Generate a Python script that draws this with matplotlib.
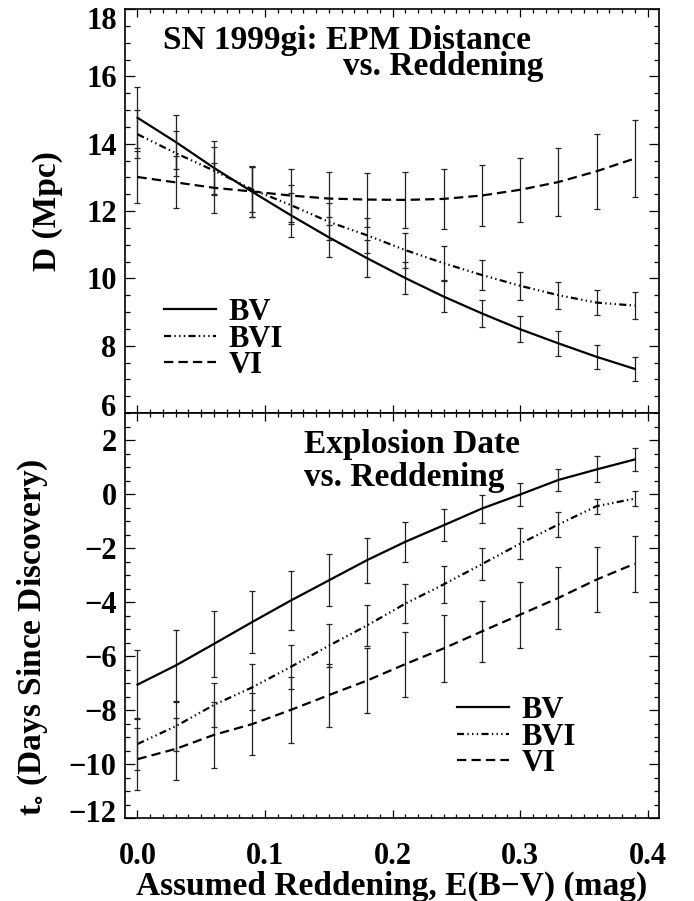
import matplotlib
matplotlib.use('Agg')
import matplotlib.pyplot as plt
from matplotlib.ticker import MultipleLocator
from matplotlib.transforms import ScaledTranslation

## Values (SN 1999gi, EPM vs. reddening)
ebv = [0.00, 0.03, 0.06, 0.09, 0.12, 0.15, 0.18, 0.21, 0.24, 0.27, 0.30, 0.33, 0.36, 0.39]

## top panel: distance (Mpc)
d_bv = [14.77, 14.05, 13.28, 12.57, 11.88, 11.22, 10.60, 10.01, 9.46, 8.96, 8.49, 8.07, 7.67, 7.31]
d_bv_err = [0.90, 0.81, 0.79, 0.75, 0.66, 0.60, 0.55, 0.48, 0.46, 0.40, 0.38, 0.37, 0.36, 0.35]
d_bvi = [14.28, 13.72, 13.20, 12.64, 12.18, 11.68, 11.28, 10.84, 10.45, 10.10, 9.78, 9.50, 9.28, 9.19]
d_bvi_err = [0.72, 0.67, 0.70, 0.68, 0.58, 0.55, 0.52, 0.52, 0.51, 0.44, 0.42, 0.40, 0.36, 0.40]
d_vi = [13.01, 12.85, 12.69, 12.58, 12.46, 12.37, 12.34, 12.33, 12.36, 12.46, 12.63, 12.86, 13.18, 13.56]
d_vi_err = [0.78, 0.77, 0.74, 0.76, 0.78, 0.79, 0.80, 0.84, 0.90, 0.90, 0.95, 1.01, 1.11, 1.15]

## bottom panel: explosion date (days since discovery)
t_bv = [-7.06, -6.35, -5.55, -4.74, -3.95, -3.20, -2.45, -1.77, -1.16, -0.54, -0.02, 0.52, 0.91, 1.28]
t_bv_err = [1.29, 1.30, 1.21, 1.15, 1.10, 0.96, 0.83, 0.75, 0.59, 0.52, 0.43, 0.40, 0.48, 0.42]
t_bvi = [-9.26, -8.60, -7.81, -7.16, -6.41, -5.62, -4.87, -4.06, -3.35, -2.60, -1.84, -1.13, -0.45, -0.17]
t_bvi_err = [0.95, 0.91, 0.82, 0.85, 0.83, 0.80, 0.76, 0.72, 0.68, 0.60, 0.57, 0.45, 0.28, 0.29]
t_vi = [-9.82, -9.44, -8.92, -8.52, -8.00, -7.45, -6.91, -6.30, -5.72, -5.09, -4.47, -3.85, -3.17, -2.58]
t_vi_err = [1.15, 1.16, 1.21, 1.15, 1.22, 1.17, 1.21, 1.20, 1.24, 1.12, 1.22, 1.15, 1.20, 1.04]

labels = ['BV', 'BVI', 'VI']

plt.rcParams['font.family'] = ['Liberation Serif', 'DejaVu Serif']
plt.rcParams['font.weight'] = 'bold'
plt.rcParams['axes.labelweight'] = 'bold'
plt.rcParams['mathtext.fontset'] = 'stix'
plt.rcParams['axes.linewidth'] = 1.2

solid = '-'
dash3dot = (0, (3.2, 1.5, 0.6, 1.5, 0.6, 1.5, 0.6, 1.5))
dashed = (0, (4.2, 2.3))
styles = [solid, dash3dot, dashed]

fig = plt.figure(figsize=(6.94, 9.01), dpi=100)
ax1 = fig.add_axes([0.1801, 0.5416, 0.7695, 0.4484])
ax2 = fig.add_axes([0.1801, 0.0921, 0.7695, 0.4495])

top = [(d_bv, d_bv_err), (d_bvi, d_bvi_err), (d_vi, d_vi_err)]
bot = [(t_bv, t_bv_err), (t_bvi, t_bvi_err), (t_vi, t_vi_err)]

for ax, series in ((ax1, top), (ax2, bot)):
    for (y, err), ls, lab in zip(series, styles, labels):
        ax.errorbar(ebv, y, yerr=err, fmt='none', ecolor='#222222',
                    elinewidth=0.9, capsize=2.2, capthick=0.9)
        ax.plot(ebv, y, linestyle=ls, color='k', lw=1.6, label=lab)

    ax.set_xlim(-0.0098, 0.409)
    ax.xaxis.set_major_locator(MultipleLocator(0.1))
    ax.xaxis.set_minor_locator(MultipleLocator(0.01))
    ax.yaxis.set_major_locator(MultipleLocator(2))
    ax.yaxis.set_minor_locator(MultipleLocator(0.5))
    ax.tick_params(which='both', direction='in', top=True, right=True,
                   width=0.9, labelsize=22)
    ax.tick_params(axis='y', which='major', length=7, pad=6)
    ax.tick_params(axis='y', which='minor', length=3.5)
    ax.tick_params(axis='x', which='major', length=6, pad=17)
    ax.tick_params(axis='x', which='minor', length=3)

ax1.set_ylim(6, 18)
ax2.set_ylim(-12, 3)
ax1.tick_params(labelbottom=False)

# panel titles
ax1.text(0.071, 0.901, 'SN 1999gi: EPM Distance', transform=ax1.transAxes,
         fontsize=24, ha='left', va='baseline')
ax1.text(0.408, 0.837, 'vs. Reddening', transform=ax1.transAxes,
         fontsize=24, ha='left', va='baseline')
ax2.text(0.3346, 0.901, 'Explosion Date', transform=ax2.transAxes,
         fontsize=24, ha='left', va='baseline')
ax2.text(0.3346, 0.82, 'vs. Reddening', transform=ax2.transAxes,
         fontsize=24, ha='left', va='baseline')

# legends
ax1.legend(loc='center left', bbox_to_anchor=(0.073, 0.183), frameon=False,
           fontsize=22, handlelength=1.7, handletextpad=0.4,
           labelspacing=-0.08, borderpad=0, borderaxespad=0)
ax2.legend(loc='center left', bbox_to_anchor=(0.622, 0.2), frameon=False,
           fontsize=22, handlelength=1.7, handletextpad=0.4,
           labelspacing=-0.08, borderpad=0, borderaxespad=0)

# axis labels
ax1.set_ylabel('D (Mpc)', fontsize=24, va='center')
ax1.yaxis.set_label_coords(-0.146, 0.5)
ax2.set_ylabel(r't$_{\circ}$ (Days Since Discovery)', fontsize=24, va='center')
ax2.yaxis.set_label_coords(-0.172, 0.446)
ax2.set_xlabel('Assumed Reddening, E(B\u2212V) (mag)', fontsize=24, va='center')
ax2.xaxis.set_label_coords(0.5, -0.17)

# nudge the tick labels at the ends of the y ranges inward, as in the original
fig.canvas.draw()
shifts = {(ax1, 18): -9, (ax1, 6): 8, (ax2, -12): 7}
for (ax, loc), dy in shifts.items():
    for tick in ax.yaxis.get_major_ticks():
        if abs(tick.get_loc() - loc) < 1e-6:
            lbl = tick.label1
            lbl.set_transform(lbl.get_transform() +
                              ScaledTranslation(0, dy / 100, fig.dpi_scale_trans))

plt.savefig('out.png', dpi=100)
plt.close()
